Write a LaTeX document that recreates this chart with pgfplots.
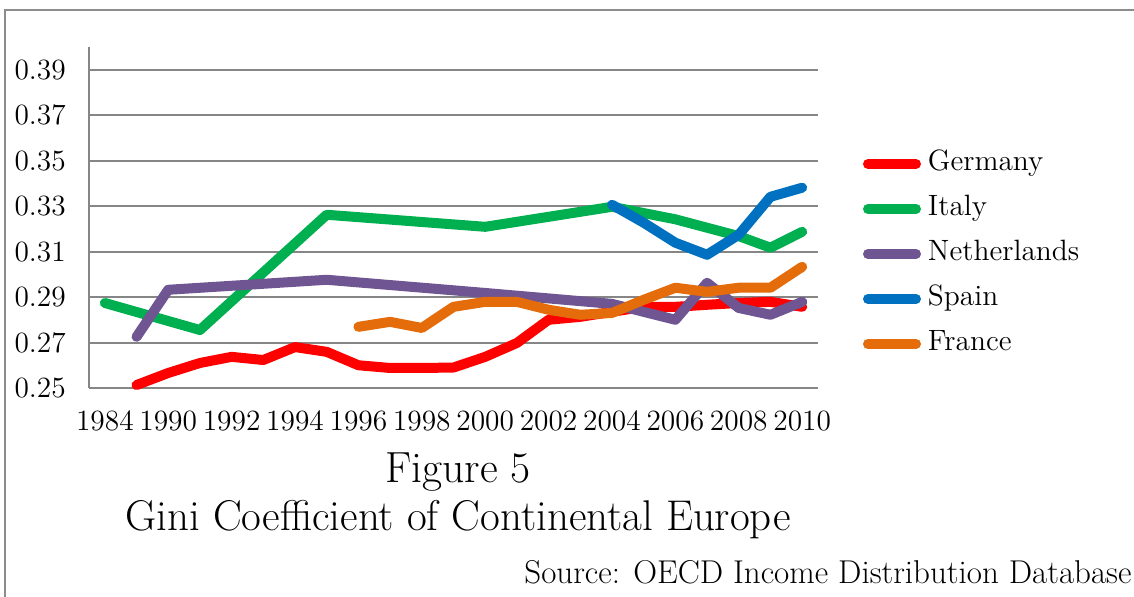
\documentclass[border=0pt]{standalone}
\usepackage{fontspec}
\usepackage{pgfplots}
\pgfplotsset{compat=1.18}
\definecolor{cGer}{HTML}{FF0000}
\definecolor{cIta}{HTML}{00B050}
\definecolor{cNed}{HTML}{6F5591}
\definecolor{cSpa}{HTML}{0070C0}
\definecolor{cFra}{HTML}{E46C0A}
\definecolor{gridgray}{HTML}{868686}
\definecolor{framegray}{HTML}{8C8C8C}
\begin{document}
\begin{tikzpicture}[x=0.5pt,y=0.5pt]
\useasboundingbox (0,0) rectangle (1134,597);
\draw[color=framegray, line width=1pt] (5,0) -- (5,587) -- (1134,587);
\coordinate (A) at (89,209);
\begin{axis}[
  at={(A)}, anchor=south west, scale only axis,
  width=364.5pt, height=170.5pt,
  xmin=-0.5, xmax=22.5, ymin=0.25, ymax=0.40,
  axis x line=bottom, axis y line=left,
  axis line style={-, draw=gridgray, line width=1pt},
  ytick={0.25,0.27,0.29,0.31,0.33,0.35,0.37,0.39},
  yticklabels={0.25,0.27,0.29,0.31,0.33,0.35,0.37,0.39},
  xtick={0,2,4,6,8,10,12,14,16,18,20,22},
  xticklabels={1984,1990,1992,1994,1996,1998,2000,2002,2004,2006,2008,2010},
  major tick length=0pt, tick style={draw=none},
  ymajorgrids, grid style={gridgray, line width=1pt},
  yticklabel style={font=\fontsize{14.7}{16}\selectfont, xshift=-8.1pt},
  xticklabel style={font=\fontsize{14.7}{16}\selectfont, yshift=-8pt},
  every axis plot/.append style={line width=5pt, line join=round, line cap=round, no markers},
  legend style={at={(axis description cs:1.0617,0.695)}, anchor=north west,
    draw=none, fill=none, inner sep=0pt, outer sep=0pt,
    row sep=9.5pt, column sep=3.5pt,
    font=\fontsize{14.7}{16}\selectfont,
    nodes={inner sep=0pt, text height=10pt, text depth=3pt}},
  legend cell align=left,
  legend image code/.code={\draw (0pt,0pt) -- (24pt,0pt);},
  clip=false,
]
\addplot[cGer] coordinates {(1,0.2513) (2,0.2566) (3,0.261) (4,0.2637) (5,0.2623) (6,0.268) (7,0.2659) (8,0.260) (9,0.2588) (10,0.2588) (11,0.259) (12,0.2637) (13,0.2698) (14,0.280) (15,0.2813) (16,0.2835) (17,0.2857) (18,0.2857) (19,0.2866) (20,0.2874) (21,0.2879) (22,0.2857)};
\addlegendentry{Germany}
\addplot[cIta] coordinates {(0,0.2874) (3,0.2755) (7,0.3262) (12,0.3209) (16,0.3297) (18,0.3242) (20,0.3168) (21,0.3117) (22,0.3187)};
\addlegendentry{Italy}
\addplot[cNed] coordinates {(1,0.2725) (2,0.2932) (7,0.2976) (12,0.2918) (16,0.2870) (18,0.2800) (19,0.2963) (20,0.2852) (21,0.2822) (22,0.2879)};
\addlegendentry{Netherlands}
\addplot[cSpa] coordinates {(16,0.3306) (17,0.3227) (18,0.3139) (19,0.3086) (20,0.3174) (21,0.3341) (22,0.3381)};
\addlegendentry{Spain}
\addplot[cFra] coordinates {(8,0.2769) (9,0.2791) (10,0.2764) (11,0.2857) (12,0.2879) (13,0.2879) (14,0.2844) (15,0.2822) (16,0.2830) (17,0.2888) (18,0.2941) (19,0.2923) (20,0.2941) (21,0.2941) (22,0.3033)};
\addlegendentry{France}
\end{axis}
\node[anchor=base, font=\fontsize{21.8}{24}\selectfont] at (458,114) {Figure 5};
\node[anchor=base, font=\fontsize{21.5}{24}\selectfont] at (458,66) {Gini Coefficient of Continental Europe};
\node[anchor=base west, font=\fontsize{16.5}{18}\selectfont, inner sep=0pt] at (524,13) {Source: OECD Income Distribution Database};
\end{tikzpicture}
\end{document}
